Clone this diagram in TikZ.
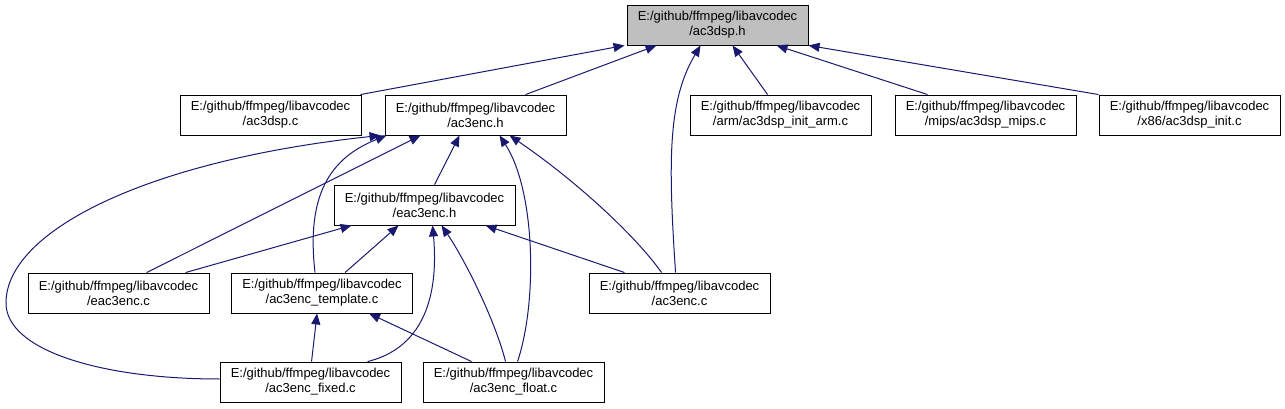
\documentclass[tikz,border=0pt]{standalone}
\usepackage{fontspec}
\setmainfont{Liberation Sans}
\usepackage{tikz}
\usetikzlibrary{positioning, arrows.meta, calc}
\definecolor{edgeblue}{RGB}{25,25,112}
\definecolor{headgrey}{RGB}{191,191,191}

\begin{document}
\begin{tikzpicture}[x=1pt, y=-1pt,
  file/.style={rectangle, draw=black, fill=white, minimum width=181pt, minimum height=40pt,
               inner sep=2pt, align=center, font=\fontsize{13}{15}\selectfont, line width=0.9pt},
  header/.style={file, fill=headgrey},
  incl/.style={-{Triangle[length=11pt, width=9pt]}, line width=1pt, color=edgeblue},
]
  \useasboundingbox (0,0) rectangle (1285,409);

  % Included header
  \node[header] (hdr) at (717.5,25) {E:/github/ffmpeg/libavcodec\\/ac3dsp.h};

  % Direct includers
  \node[file] (dspc) at (270.5,115) {E:/github/ffmpeg/libavcodec\\/ac3dsp.c};
  \node[file] (ench) at (475.5,115) {E:/github/ffmpeg/libavcodec\\/ac3enc.h};
  \node[file] (arm) at (780.5,115) {E:/github/ffmpeg/libavcodec\\/arm/ac3dsp\_init\_arm.c};
  \node[file] (mips) at (985.5,115) {E:/github/ffmpeg/libavcodec\\/mips/ac3dsp\_mips.c};
  \node[file] (xinit) at (1189.5,115) {E:/github/ffmpeg/libavcodec\\/x86/ac3dsp\_init.c};

  % Encoder files
  \node[file] (eench) at (424.5,205) {E:/github/ffmpeg/libavcodec\\/eac3enc.h};
  \node[file] (eencc) at (118.5,293) {E:/github/ffmpeg/libavcodec\\/eac3enc.c};
  \node[file] (tmpl) at (322,293) {E:/github/ffmpeg/libavcodec\\/ac3enc\_template.c};
  \node[file] (encc) at (679.5,293) {E:/github/ffmpeg/libavcodec\\/ac3enc.c};
  \node[file] (fixedc) at (310.5,382) {E:/github/ffmpeg/libavcodec\\/ac3enc\_fixed.c};
  \node[file] (floatc) at (513.5,382) {E:/github/ffmpeg/libavcodec\\/ac3enc\_float.c};

  % Includes of ac3dsp.h
  \foreach \src/\sx/\hx in {dspc/181/-2, ench/141/30, arm/78/106, mips/33/150, xinit/0/182} {
    \draw[incl] ([xshift=\sx pt]\src.north west) -- ([xshift=\hx pt]hdr.south west);
  }
  \draw[incl] ([xshift=87pt]encc.north west) .. controls (668,160) and (668,100) .. ([xshift=74pt]hdr.south west);

  % Includes of ac3enc.h
  \draw[incl] ([xshift=101pt]eench.north west) -- ([xshift=75pt]ench.south west);
  \draw[incl] ([xshift=119pt]eencc.north west) -- ([xshift=36pt]ench.south west);
  \draw[incl] ([xshift=84pt]tmpl.north west) .. controls (306,195) and (330,158) .. ([xshift=2pt]ench.south west);
  \draw[incl] ([yshift=3pt]fixedc.west) .. controls (100,379) and (6,350) .. (6,303)
    .. controls (6,230) and (150,160) .. ([xshift=-4pt]ench.south west);
  \draw[incl] ([xshift=95pt]floatc.north west) .. controls (538,300) and (535,190) .. ([xshift=115pt]ench.south west);
  \draw[incl] ([xshift=73pt]encc.north west) .. controls (635,235) and (575,180) .. ([xshift=125pt]ench.south west);

  % Includes of eac3enc.h
  \draw[incl] ([xshift=158pt]eencc.north west) -- ([xshift=18pt]eench.south west);
  \draw[incl] ([xshift=114pt]tmpl.north west) -- ([xshift=65pt]eench.south west);
  \draw[incl] ([xshift=148pt]fixedc.north west) .. controls (435,345) and (437,275) .. ([xshift=99pt]eench.south west);
  \draw[incl] ([xshift=83pt]floatc.north west) .. controls (495,320) and (465,260) .. ([xshift=108pt]eench.south west);
  \draw[incl] ([xshift=36pt]encc.north west) -- ([xshift=152pt]eench.south west);

  % Includes of ac3enc_template.c
  \draw[incl] ([xshift=92pt]fixedc.north west) -- ([xshift=86pt]tmpl.south west);
  \draw[incl] ([xshift=49pt]floatc.north west) -- ([xshift=138pt]tmpl.south west);
\end{tikzpicture}
\end{document}
